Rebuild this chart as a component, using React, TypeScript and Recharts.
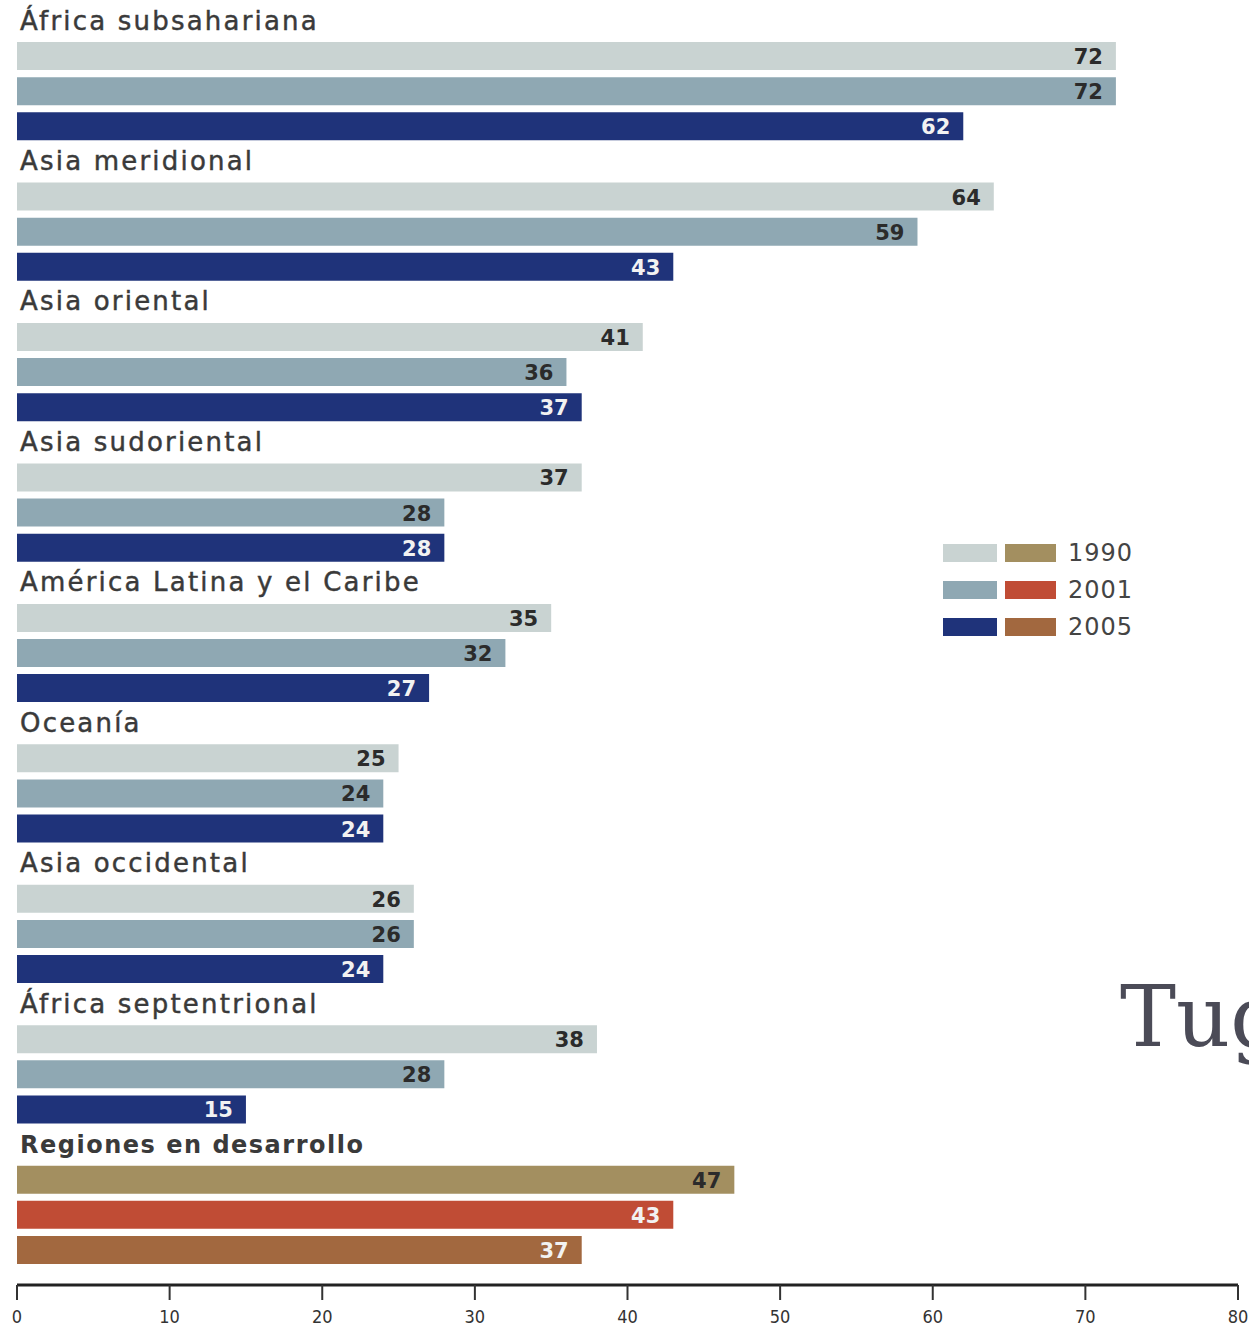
import { Bar, BarChart, Cell, LabelList, XAxis, YAxis } from "recharts";

const REGIONS = [
  "África subsahariana",
  "Asia meridional",
  "Asia oriental",
  "Asia sudoriental",
  "América Latina y el Caribe",
  "Oceanía",
  "Asia occidental",
  "África septentrional",
  "Regiones en desarrollo",
];
const YEARS = ["1990", "2001", "2005"];
const V1990 = [72, 64, 41, 37, 35, 25, 26, 38, 47];
const V2001 = [72, 59, 36, 28, 32, 24, 26, 28, 43];
const V2005 = [62, 43, 37, 28, 27, 24, 24, 15, 37];
const X_TICKS = [0, 10, 20, 30, 40, 50, 60, 70, 80];

// regional palette, and the one used for the developing-regions total
const REGION_COLORS = ["#c9d3d2", "#8fa8b3", "#1f337a"];
const TOTAL_COLORS = ["#a38f60", "#c04c35", "#a2683f"];
const REGION_LABEL = ["#2b2b2b", "#2b2b2b", "#f2f2f2"];
const TOTAL_LABEL = ["#2b2b2b", "#f2f2f2", "#f2f2f2"];

const FONT = "'DejaVu Sans', sans-serif";

type Row = {
  key: string;
  title: string | null;
  bold: boolean;
  value: number | null;
  fill: string;
  labelFill: string;
};

const rows: Row[] = [];
REGIONS.forEach((name, g) => {
  const total = g === REGIONS.length - 1;
  rows.push({ key: `g${g}`, title: name, bold: total, value: null, fill: "none", labelFill: "none" });
  [V1990, V2001, V2005].forEach((vals, y) => {
    rows.push({
      key: `g${g}-${YEARS[y]}`,
      title: null,
      bold: false,
      value: vals[g],
      fill: total ? TOTAL_COLORS[y] : REGION_COLORS[y],
      labelFill: total ? TOTAL_LABEL[y] : REGION_LABEL[y],
    });
  });
});
// LabelList indexes only the rows that carry a value
const barRows = rows.filter((r) => r.value != null);

function GroupTick(props: any) {
  const row = rows.find((r) => r.key === props.payload?.value);
  if (!row || !row.title) return <g />;
  return (
    <text
      x={20}
      y={props.y}
      dy={9}
      fontFamily={FONT}
      fontSize={row.bold ? 24 : 26}
      fontWeight={row.bold ? 700 : 400}
      letterSpacing={row.bold ? 1.5 : 2.2}
      fill="#3a3a3a"
      stroke="#3a3a3a"
      strokeWidth={row.bold ? 0 : 0.45}
    >
      {row.title}
    </text>
  );
}

function ValueLabel(props: any) {
  const { x, y, width, height, value, index } = props;
  if (value == null) return null;
  const row = barRows[index];
  return (
    <text
      x={Number(x) + Number(width) - 13}
      y={Number(y) + Number(height) / 2}
      dy={8}
      textAnchor="end"
      fontFamily={FONT}
      fontSize={21}
      fontWeight={700}
      fill={row ? row.labelFill : "#2b2b2b"}
    >
      {value}
    </text>
  );
}

function YearLegend() {
  return (
    <div style={{ position: "absolute", left: 943, top: 534, fontFamily: FONT }}>
      {YEARS.map((yr, i) => (
        <div key={yr} style={{ display: "flex", alignItems: "center", height: 37 }}>
          <span style={{ width: 54, height: 18, background: REGION_COLORS[i], marginRight: 8 }} />
          <span style={{ width: 51, height: 18, background: TOTAL_COLORS[i], marginRight: 12 }} />
          <span style={{ fontSize: 24, color: "#444", letterSpacing: 1 }}>{yr}</span>
        </div>
      ))}
    </div>
  );
}

export default function App() {
  return (
    <div
      style={{
        position: "absolute",
        left: 0,
        top: 0,
        width: 1249,
        height: 1329,
        background: "#fff",
        overflow: "hidden",
      }}
    >
      <BarChart
        width={1249}
        height={1329}
        data={rows}
        layout="vertical"
        margin={{ top: 3, right: 11, bottom: 0, left: 16 }}
        barSize={28}
      >
        <XAxis
          type="number"
          domain={[0, 80]}
          ticks={X_TICKS}
          interval={0}
          height={44}
          axisLine={{ stroke: "#222", strokeWidth: 3 }}
          tickLine={{ stroke: "#333", strokeWidth: 2 }}
          tickSize={15}
          tickMargin={10}
          tick={{ fill: "#333", fontSize: 18, fontFamily: "'DejaVu Sans Condensed', 'DejaVu Sans', sans-serif" }}
        />
        <YAxis
          type="category"
          dataKey="key"
          width={1}
          interval={0}
          axisLine={false}
          tickLine={false}
          padding={{ top: 0, bottom: 18 }}
          tick={(p: any) => <GroupTick {...p} />}
        />
        <Bar dataKey="value" isAnimationActive={false}>
          {rows.map((r) => (
            <Cell key={r.key} fill={r.fill} />
          ))}
          <LabelList dataKey="value" content={<ValueLabel />} />
        </Bar>
      </BarChart>
      <YearLegend />
      <div
        style={{
          position: "absolute",
          left: 1120,
          top: 975,
          fontFamily: "'DejaVu Serif', serif",
          fontSize: 84,
          color: "#4b4b57",
          whiteSpace: "nowrap",
          lineHeight: 1,
        }}
      >
        Tug
      </div>
    </div>
  );
}
